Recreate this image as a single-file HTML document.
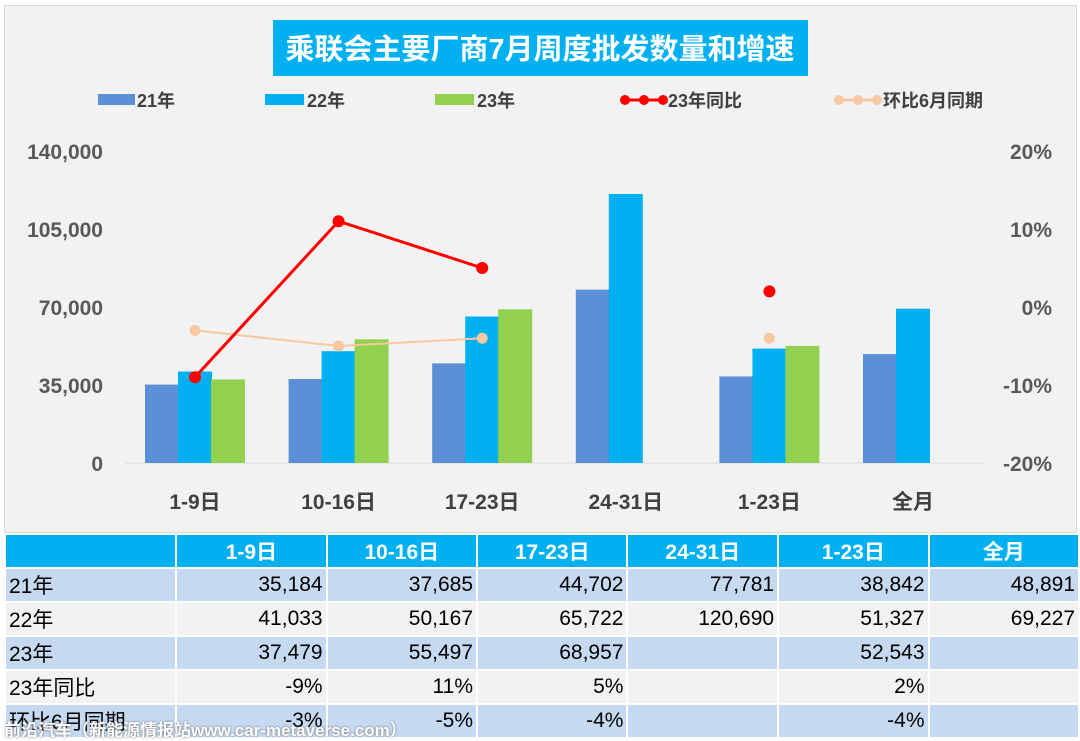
<!DOCTYPE html>
<html><head><meta charset="utf-8"><style>
body{margin:0;width:1080px;height:739px;background:#fff;overflow:hidden;font-family:"Liberation Sans","Noto Sans CJK SC",sans-serif;position:relative}
.chartbg{position:absolute;left:4px;top:5px;width:1071px;height:526px;background:#f2f2f2;border:1px solid #d9d9d9}
table{position:absolute;left:4px;top:533px;border-collapse:separate;border-spacing:2px;font-size:21px;color:#000}
td{height:32px;padding:0 3px;text-align:right}
td:first-child{text-align:left;width:166px}
td.c{width:144px}
tr.h td{background:#00b0f0;color:#fff;font-weight:bold;text-align:center}
tr.b td{background:#c5d9f1}
tr.g td{background:#f2f2f2}
.wm{position:absolute;left:4px;top:716px;color:#fff;font-size:17px;font-weight:bold;text-shadow:0 0 2px #666}
</style></head><body>
<div class="chartbg"></div>
<svg width="1080" height="532" style="position:absolute;left:0;top:0" id="svg">
<rect x="273" y="20" width="535" height="56" fill="#00b0f0"/>
<text x="540" y="59" text-anchor="middle" fill="#fff" font-size="29" font-weight="bold" font-family="Liberation Sans,Noto Sans CJK SC,sans-serif">乘联会主要厂商7月周度批发数量和增速</text>
<g font-size="18" font-weight="bold" fill="#404040" font-family="Liberation Sans,Noto Sans CJK SC,sans-serif">
<rect x="98" y="94" width="37" height="11" fill="#5b8fd6"/><text x="137" y="107">21年</text>
<rect x="265" y="94" width="39" height="11" fill="#00b0f0"/><text x="307" y="107">22年</text>
<rect x="435" y="94" width="39" height="11" fill="#92d050"/><text x="477" y="107">23年</text>
<line x1="622" y1="100" x2="666" y2="100" stroke="#ff0000" stroke-width="3"/><circle cx="625" cy="100" r="5" fill="#ff0000"/><circle cx="644" cy="100" r="5" fill="#ff0000"/><circle cx="663" cy="100" r="5" fill="#ff0000"/><text x="668" y="107">23年同比</text>
<line x1="836" y1="100" x2="880" y2="100" stroke="#f8c8a0" stroke-width="3"/><circle cx="839" cy="100" r="5" fill="#f8c8a0"/><circle cx="858" cy="100" r="5" fill="#f8c8a0"/><circle cx="877" cy="100" r="5" fill="#f8c8a0"/><text x="883" y="107">环比6月同期</text>
</g>
<line x1="125" y1="463" x2="985" y2="463" stroke="#d9d9d9" stroke-width="1"/>
<g id="marks"></g>
</svg>
<table>
<tr class="h"><td></td><td class="c">1-9日</td><td class="c">10-16日</td><td class="c">17-23日</td><td class="c">24-31日</td><td class="c">1-23日</td><td class="c">全月</td></tr>
<tr class="b"><td>21年</td><td>35,184</td><td>37,685</td><td>44,702</td><td>77,781</td><td>38,842</td><td>48,891</td></tr>
<tr class="g"><td>22年</td><td>41,033</td><td>50,167</td><td>65,722</td><td>120,690</td><td>51,327</td><td>69,227</td></tr>
<tr class="b"><td>23年</td><td>37,479</td><td>55,497</td><td>68,957</td><td></td><td>52,543</td><td></td></tr>
<tr class="g"><td>23年同比</td><td>-9%</td><td>11%</td><td>5%</td><td></td><td>2%</td><td></td></tr>
<tr class="b"><td>环比6月同期</td><td>-3%</td><td>-5%</td><td>-4%</td><td></td><td>-4%</td><td></td></tr>
</table>
<div class="wm">前沿汽车（新能源情报站www.car-metaverse.com）</div>
<script>
const categories=["1-9日","10-16日","17-23日","24-31日","1-23日","全月"];
const s21=[35184,37685,44702,77781,38842,48891];
const s22=[41033,50167,65722,120690,51327,69227];
const s23=[37479,55497,68957,null,52543,null];
const yoy=[-9,11,5,null,2,null];
const mom=[-3,-5,-4,null,-4,null];
const leftTicks=[0,35000,70000,105000,140000];
const rightTicks=[-20,-10,0,10,20];
const NS="http://www.w3.org/2000/svg";
const g=document.getElementById('marks');
const y0=463,yTop=151;
const yL=v=>y0-(v/140000)*(y0-yTop);
const yR=v=>y0-((v+20)/40)*(y0-yTop);
const xC=i=>195+i*143.6;
function mk(t,a){const e=document.createElementNS(NS,t);for(const k in a)e.setAttribute(k,a[k]);g.appendChild(e);return e;}
leftTicks.forEach(v=>{const t=mk('text',{x:103,y:yL(v)+8,'text-anchor':'end','font-size':21,'font-weight':'bold',fill:'#595959'});t.textContent=v.toLocaleString('en-US');

});
rightTicks.forEach(v=>{const t=mk('text',{x:1052,y:yR(v)+8,'text-anchor':'end','font-size':21,'font-weight':'bold',fill:'#595959'});t.textContent=v+'%';

});
categories.forEach((c,i)=>{const t=mk('text',{x:xC(i),y:509,'text-anchor':'middle','font-size':21,'font-weight':'bold',fill:'#404040','font-family':'Liberation Sans,Noto Sans CJK SC,sans-serif'});t.textContent=c;

});
const series=[[s21,'#5b8fd6',-50],[s22,'#00b0f0',-17],[s23,'#92d050',16]];
series.forEach(([arr,col,off])=>arr.forEach((v,i)=>{if(v==null)return;const r=mk('rect',{x:xC(i)+off,y:yL(v),width:34,height:y0-yL(v),fill:col});

}));
function line(arr,col,w,r){let seg=[];const flush=()=>{if(seg.length>1){const p=mk('polyline',{points:seg.join(' '),fill:'none',stroke:col,'stroke-width':w});

}seg=[];};
arr.forEach((v,i)=>{if(v==null){flush();return;}seg.push(xC(i)+','+yR(v));});flush();
arr.forEach((v,i)=>{if(v==null)return;const c=mk('circle',{cx:xC(i),cy:yR(v),r:r,fill:col});

});}
line(mom,'#f8c8a0',2,5.5);
line(yoy,'#ff0000',3,6);
</script>
</body></html>
